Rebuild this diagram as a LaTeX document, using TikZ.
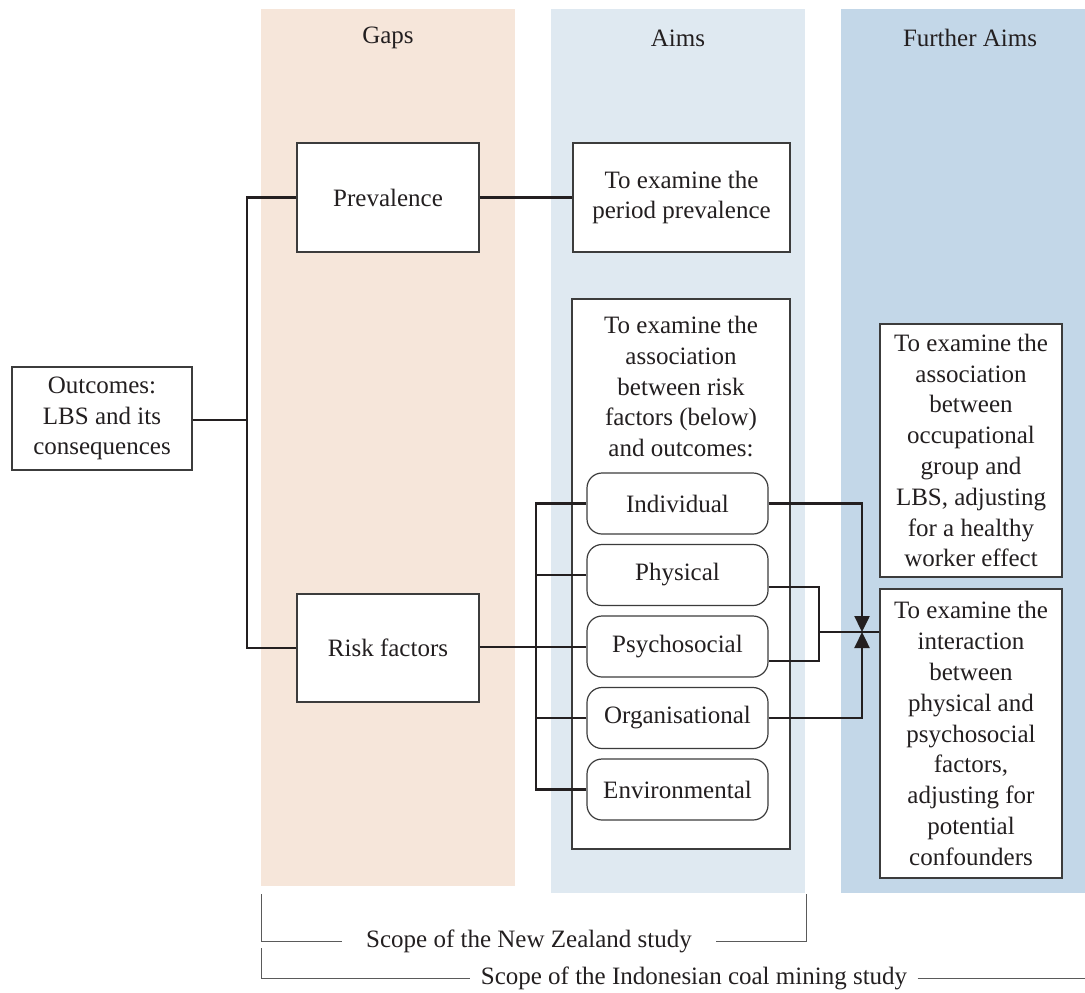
\documentclass[tikz,border=0pt]{standalone}
\usepackage{fontspec}
\setmainfont{Liberation Serif}
\usetikzlibrary{arrows.meta,calc}
\definecolor{gapsfill}{RGB}{246,230,218}
\definecolor{aimsfill}{RGB}{223,233,241}
\definecolor{furtherfill}{RGB}{195,215,232}
\definecolor{ink}{RGB}{35,31,32}
\definecolor{rule}{RGB}{60,60,60}
\definecolor{scopeline}{RGB}{90,90,90}

\begin{document}
\begin{tikzpicture}[x=0.5pt,y=-0.5pt,
  every node/.style={font=\fontsize{12.5}{15.4}\selectfont, text=ink},
  box/.style={draw=rule, line width=0.6pt, fill=white, align=center, inner sep=0pt},
  factor/.style={box, rounded corners=7.5pt, minimum width=90.5pt, minimum height=30.5pt},
  conn/.style={draw=ink, line width=1.2pt},
  arrowconn/.style={conn, -{Triangle[width=7.5pt,length=8pt]}},
  scope/.style={draw=scopeline, line width=0.5pt},
  heading/.style={anchor=center}]

\useasboundingbox (0,0) rectangle (1085,992);

% column bands
\fill[gapsfill] (261,9) rectangle (515,886);
\fill[aimsfill] (551,9) rectangle (805,893);
\fill[furtherfill] (841,9) rectangle (1085,893);

% column headings
\node[heading] (hgaps) at (388,38) {Gaps};
\node[heading] (haims) at (678,38) {Aims};
\node[heading] (hfurther) at (970,38) {Further Aims};

% boxes
\node[box, minimum width=90pt, minimum height=51.5pt] (out) at (102,418.5)
  {Outcomes:\\LBS and its\\consequences};
\node[box, minimum width=91pt, minimum height=54.5pt] (prev) at (388,197.5) {Prevalence};
\node[box, minimum width=91pt, minimum height=54pt] (risk) at (388,648) {Risk factors};
\node[box, minimum width=108.5pt, minimum height=54.5pt] (prevaim) at (681.5,197.5)
  {To examine the\\period prevalence};
\node[box, minimum width=109pt, minimum height=275pt] (assoc) at (681,574) {};
\node[align=center, inner sep=0pt] (assoctext) at (681,386.5)
  {To examine the\\association\\between risk\\factors (below)\\and outcomes:};

\node[factor] (ind) at (677.5,503.5) {Individual};
\node[factor] (phys) at (677.5,575) {Physical};
\node[factor] (psy) at (677.5,646.5) {Psychosocial};
\node[factor] (org) at (677.5,718) {Organisational};
\node[factor] (env) at (677.5,789.5) {Environmental};

\node[box, minimum width=91pt, minimum height=126.5pt] (hwe) at (971,450.5)
  {To examine the\\association\\between\\occupational\\group and\\LBS, adjusting\\for a healthy\\worker effect};
\node[box, minimum width=91pt, minimum height=144.5pt] (inter) at (971,733.5)
  {To examine the\\interaction\\between\\physical and\\psychosocial\\factors,\\adjusting for\\potential\\confounders};

% junction points
\coordinate (trunk) at (247,420);
\coordinate (bus) at (536,647);
\coordinate (join) at (819,632);
\coordinate (meet) at (862,632);

% left tree
\draw[conn] (out.east |- trunk) -- (trunk);
\draw[conn] (prev.west) -| (trunk) |- (risk.west);
\draw[conn] (prev.east) -- (prevaim.west);

% risk factor bus
\draw[conn] (risk.east |- bus) -- (psy.west |- bus);
\draw[conn] (ind.west) -| (bus) |- (env.west);
\draw[conn] (phys.west) -- (phys.west -| bus);
\draw[conn] (org.west) -- (org.west -| bus);

% links to the further aims
\draw[conn] ($(phys.east)+(0,-8)$) -- ($(phys.east)+(0,-8)$ -| hwe.west);
\draw[conn] ($(phys.east)+(0,12)$) -| (join) |- ($(psy.east)+(0,14.5)$);
\draw[conn] (join) -- (join -| inter.west);
\draw[arrowconn] (ind.east) -| (meet);
\draw[arrowconn] (org.east) -| (meet);

% study scopes
\node[inner xsep=12pt, inner ysep=0pt] (nz) at (529,941) {Scope of the New Zealand study};
\coordinate (nzleft) at (261,894);
\coordinate (nzright) at (806,894);
\draw[scope] (nzleft) |- (nz.west);
\draw[scope] (nz.east) -| (nzright);

\node[inner xsep=5pt, inner ysep=0pt] (indo) at (694,978) {Scope of the Indonesian coal mining study};
\coordinate (indoleft) at (261,948);
\coordinate (indoright) at (1085,978);
\draw[scope] (indoleft) |- (indo.west);
\draw[scope] (indo.east) -- (indoright);

\end{tikzpicture}
\end{document}
